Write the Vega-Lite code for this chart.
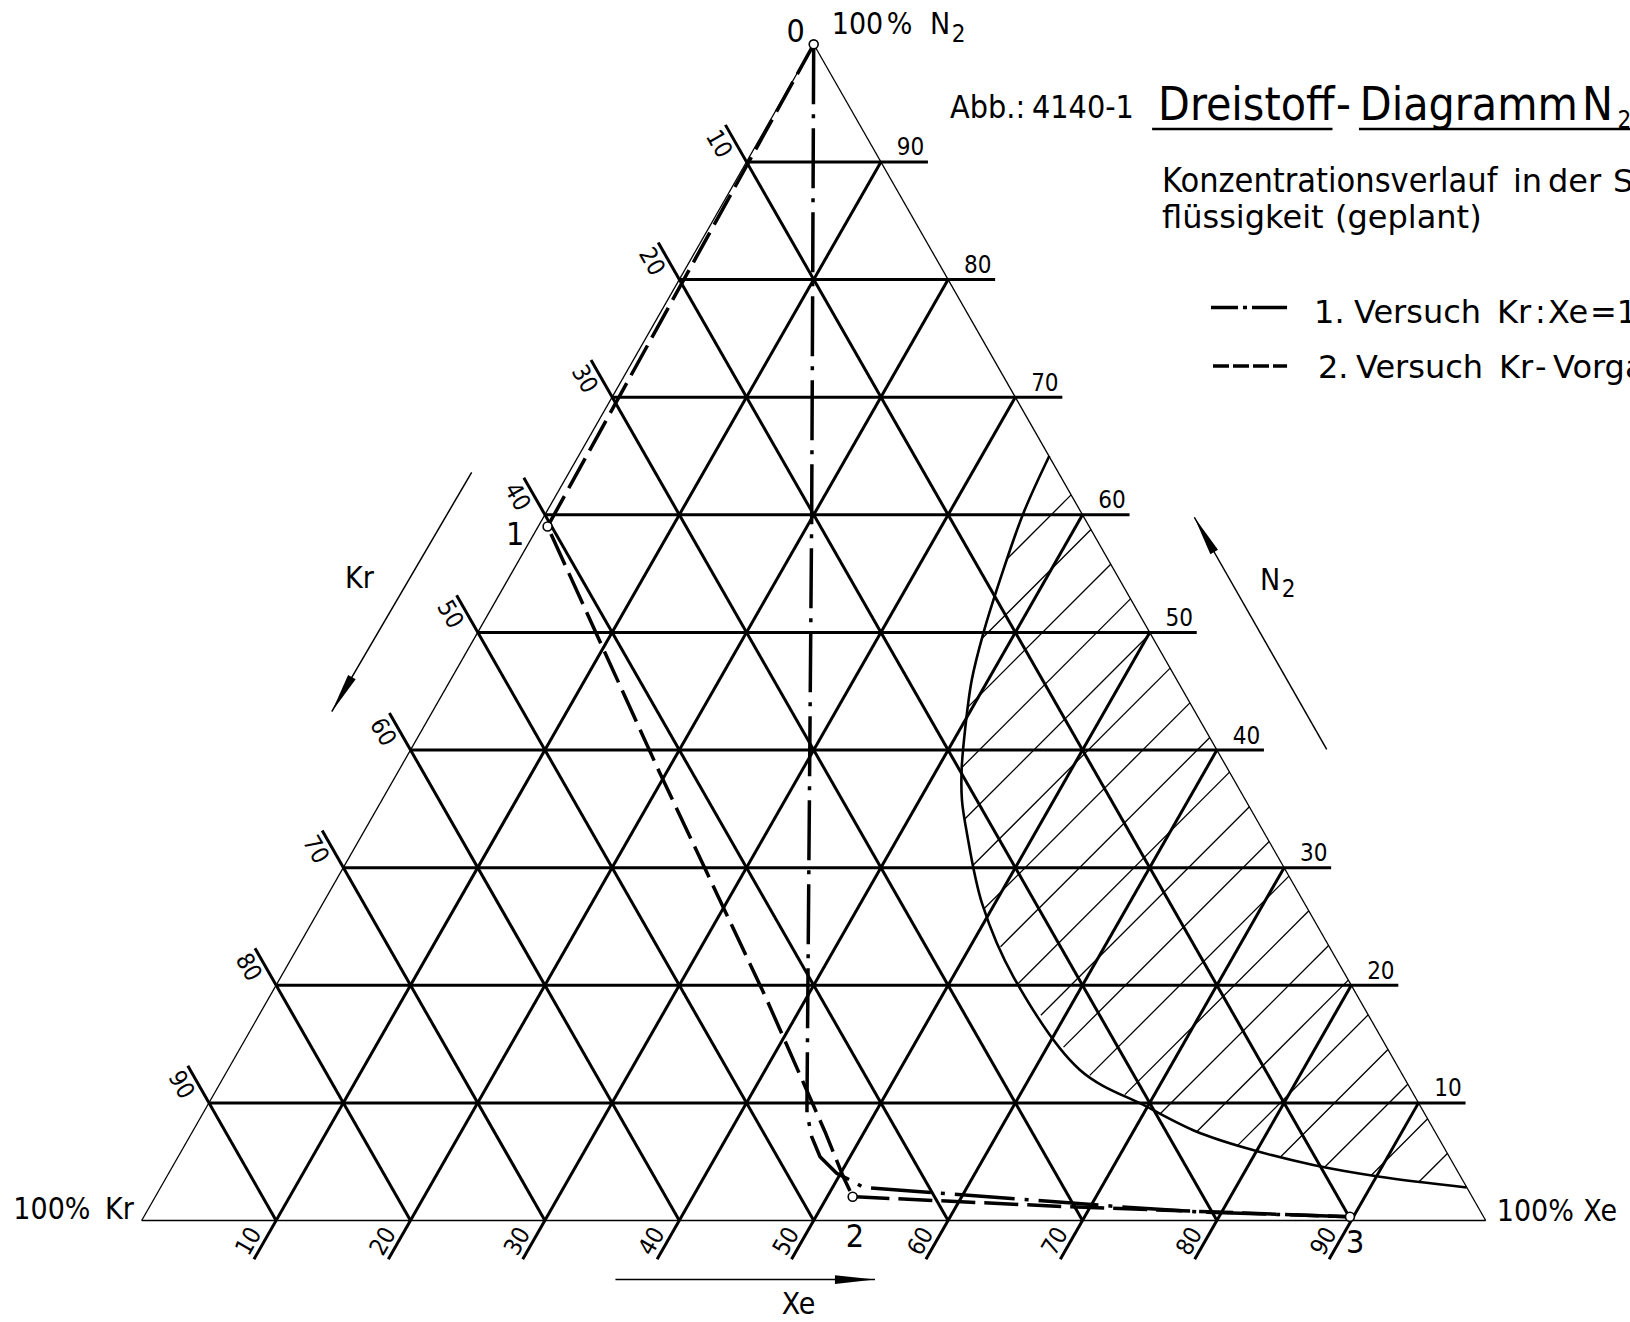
{
  "$schema": "https://vega.github.io/schema/vega-lite/v6.json",
  "width": 1630,
  "height": 1322,
  "padding": 0,
  "autosize": {"type": "none"},
  "background": "white",
  "config": {"view": {"stroke": null}, "text": {"font": "DejaVu Sans Condensed, Roboto Condensed, Roboto, sans-serif", "color": "black"}},
  "encoding": {
    "x": {"field": "x", "type": "quantitative", "scale": {"domain": [-10.5432, 110.7366], "nice": false, "zero": false}, "axis": null},
    "y": {"field": "y", "type": "quantitative", "scale": {"domain": [-8.6295, 103.7664], "nice": false, "zero": false}, "axis": null}
  },
  "layer": [
    {
      "data": {"values": [
        {"x": 0, "y": 0, "x2": 100, "y2": 0},
        {"x": 0, "y": 0, "x2": 50, "y2": 100},
        {"x": 100, "y": 0, "x2": 50, "y2": 100}
      ]},
      "mark": {"type": "rule", "stroke": "black", "strokeWidth": 1.3},
      "encoding": {"x2": {"field": "x2"}, "y2": {"field": "y2"}}
    },
    {
      "data": {"values": [
        {"x": 97.15, "y": 5.70, "x2": 95.06, "y2": 3.31},
        {"x": 95.68, "y": 8.65, "x2": 91.49, "y2": 3.85},
        {"x": 94.20, "y": 11.59, "x2": 88.03, "y2": 4.55},
        {"x": 92.73, "y": 14.54, "x2": 84.75, "y2": 5.42},
        {"x": 91.26, "y": 17.49, "x2": 81.55, "y2": 6.39},
        {"x": 89.78, "y": 20.44, "x2": 78.50, "y2": 7.54},
        {"x": 88.31, "y": 23.38, "x2": 75.80, "y2": 9.09},
        {"x": 86.84, "y": 26.33, "x2": 73.15, "y2": 10.70},
        {"x": 85.36, "y": 29.28, "x2": 70.54, "y2": 12.34},
        {"x": 83.89, "y": 32.22, "x2": 68.59, "y2": 14.74},
        {"x": 82.42, "y": 35.17, "x2": 66.90, "y2": 17.45},
        {"x": 80.94, "y": 38.12, "x2": 65.22, "y2": 20.15},
        {"x": 79.47, "y": 41.06, "x2": 63.90, "y2": 23.28},
        {"x": 77.99, "y": 44.01, "x2": 62.69, "y2": 26.52},
        {"x": 76.52, "y": 46.96, "x2": 61.91, "y2": 30.27},
        {"x": 75.05, "y": 49.91, "x2": 61.24, "y2": 34.13},
        {"x": 73.57, "y": 52.85, "x2": 61.02, "y2": 38.51},
        {"x": 72.10, "y": 55.80, "x2": 61.49, "y2": 43.67},
        {"x": 70.63, "y": 58.75, "x2": 62.52, "y2": 49.48},
        {"x": 69.15, "y": 61.69, "x2": 64.42, "y2": 56.28}
      ]},
      "mark": {"type": "rule", "stroke": "black", "strokeWidth": 1.3},
      "encoding": {"x2": {"field": "x2"}, "y2": {"field": "y2"}}
    },
    {
      "data": {"values": [
        {"x": 5, "y": 10, "x2": 98.5, "y2": 10},
        {"x": 10, "y": 20, "x2": 93.5, "y2": 20},
        {"x": 15, "y": 30, "x2": 88.5, "y2": 30},
        {"x": 20, "y": 40, "x2": 83.5, "y2": 40},
        {"x": 25, "y": 50, "x2": 78.5, "y2": 50},
        {"x": 30, "y": 60, "x2": 73.5, "y2": 60},
        {"x": 35, "y": 70, "x2": 68.5, "y2": 70},
        {"x": 40, "y": 80, "x2": 63.5, "y2": 80},
        {"x": 45, "y": 90, "x2": 58.5, "y2": 90},
        {"x": 43.43, "y": 93.15, "x2": 90, "y2": 0},
        {"x": 38.43, "y": 83.15, "x2": 80, "y2": 0},
        {"x": 33.43, "y": 73.15, "x2": 70, "y2": 0},
        {"x": 28.43, "y": 63.15, "x2": 60, "y2": 0},
        {"x": 23.43, "y": 53.15, "x2": 50, "y2": 0},
        {"x": 18.43, "y": 43.15, "x2": 40, "y2": 0},
        {"x": 13.43, "y": 33.15, "x2": 30, "y2": 0},
        {"x": 8.43, "y": 23.15, "x2": 20, "y2": 0},
        {"x": 3.43, "y": 13.15, "x2": 10, "y2": 0},
        {"x": 8.35, "y": -3.3, "x2": 55, "y2": 90},
        {"x": 18.35, "y": -3.3, "x2": 60, "y2": 80},
        {"x": 28.35, "y": -3.3, "x2": 65, "y2": 70},
        {"x": 38.35, "y": -3.3, "x2": 70, "y2": 60},
        {"x": 48.35, "y": -3.3, "x2": 75, "y2": 50},
        {"x": 58.35, "y": -3.3, "x2": 80, "y2": 40},
        {"x": 68.35, "y": -3.3, "x2": 85, "y2": 30},
        {"x": 78.35, "y": -3.3, "x2": 90, "y2": 20},
        {"x": 88.35, "y": -3.3, "x2": 95, "y2": 10}
      ]},
      "mark": {"type": "rule", "stroke": "black", "strokeWidth": 3},
      "encoding": {"x2": {"field": "x2"}, "y2": {"field": "y2"}}
    },
    {
      "data": {"values": [
        {"x": 67.53, "y": 65.0},
        {"x": 65.60, "y": 60.13},
        {"x": 63.86, "y": 54.46},
        {"x": 62.62, "y": 49.92},
        {"x": 61.76, "y": 45.95},
        {"x": 61.26, "y": 41.70},
        {"x": 61.01, "y": 38.39},
        {"x": 61.03, "y": 35.75},
        {"x": 61.38, "y": 33.06},
        {"x": 62.55, "y": 26.87},
        {"x": 64.87, "y": 20.70},
        {"x": 69.81, "y": 12.80},
        {"x": 74.78, "y": 9.68},
        {"x": 78.50, "y": 7.55},
        {"x": 82.22, "y": 6.14},
        {"x": 87.17, "y": 4.72},
        {"x": 92.13, "y": 3.72},
        {"x": 98.59, "y": 2.81}
      ]},
      "mark": {"type": "line", "stroke": "black", "strokeWidth": 2.6, "interpolate": "catmull-rom"},
      "encoding": {"order": {"value": null}}
    },
    {
      "data": {"values": [
        {"x": 50, "y": 100},
        {"x": 49.85, "y": 60},
        {"x": 49.5, "y": 10},
        {"x": 49.5, "y": 9.14},
        {"x": 49.85, "y": 7.12},
        {"x": 50.47, "y": 5.42},
        {"x": 51.71, "y": 4.01},
        {"x": 52.95, "y": 3.30},
        {"x": 53.67, "y": 2.82},
        {"x": 72.79, "y": 1.17},
        {"x": 78.74, "y": 0.72},
        {"x": 89.9, "y": 0.32}
      ]},
      "mark": {"type": "line", "stroke": "black", "strokeWidth": 3.5, "strokeDash": [60, 10, 4, 10]},
      "encoding": {"order": {"value": null}}
    },
    {
      "data": {"values": [
        {"x": 50, "y": 100},
        {"x": 30.2, "y": 59.0},
        {"x": 38.42, "y": 38.37},
        {"x": 46.45, "y": 18.93},
        {"x": 50.84, "y": 7.55},
        {"x": 52.2, "y": 3.72},
        {"x": 52.9, "y": 2.02},
        {"x": 68.94, "y": 1.17},
        {"x": 78.74, "y": 0.77},
        {"x": 89.9, "y": 0.32}
      ]},
      "mark": {"type": "line", "stroke": "black", "strokeWidth": 3.5, "strokeDash": [34, 9]},
      "encoding": {"order": {"value": null}}
    },
    {
      "data": {"values": [
        {"x": 50, "y": 100},
        {"x": 30.2, "y": 59.0},
        {"x": 52.9, "y": 2.02},
        {"x": 89.9, "y": 0.32}
      ]},
      "mark": {"type": "point", "shape": "circle", "size": 80, "filled": true, "fill": "white", "stroke": "black", "strokeWidth": 1.6, "opacity": 1}
    },
    {
      "data": {"values": [
        {"x": 24.55, "y": 63.61, "x2": 14.14, "y2": 43.26},
        {"x": 88.17, "y": 40.06, "x2": 78.32, "y2": 59.79},
        {"x": 35.25, "y": -5.02, "x2": 54.56, "y2": -5.02}
      ]},
      "mark": {"type": "rule", "stroke": "black", "strokeWidth": 1.5},
      "encoding": {"x2": {"field": "x2"}, "y2": {"field": "y2"}}
    },
    {
      "data": {"values": [{"x": 14.89, "y": 44.73}]},
      "mark": {"type": "point", "shape": "M0,-1L0.22,1L-0.22,1Z", "size": 1600, "filled": true, "color": "black", "strokeWidth": 0, "opacity": 1, "angle": 210.3}
    },
    {
      "data": {"values": [{"x": 79.06, "y": 58.31}]},
      "mark": {"type": "point", "shape": "M0,-1L0.22,1L-0.22,1Z", "size": 1600, "filled": true, "color": "black", "strokeWidth": 0, "opacity": 1, "angle": 330.3}
    },
    {
      "data": {"values": [{"x": 53.07, "y": -5.02}]},
      "mark": {"type": "point", "shape": "M0,-1L0.22,1L-0.22,1Z", "size": 1600, "filled": true, "color": "black", "strokeWidth": 0, "opacity": 1, "angle": 90}
    },
    {
      "data": {"values": [
        {"x": 75.18, "y": 92.80, "x2": 88.60, "y2": 92.80},
        {"x": 90.57, "y": 92.80, "x2": 110.74, "y2": 92.80}
      ]},
      "mark": {"type": "rule", "stroke": "black", "strokeWidth": 2.5},
      "encoding": {"x2": {"field": "x2"}, "y2": {"field": "y2"}}
    },
    {
      "data": {"values": [{"x": 79.56, "y": 77.62, "x2": 85.22, "y2": 77.62}]},
      "mark": {"type": "rule", "stroke": "black", "strokeWidth": 3.5, "strokeDash": [27, 5, 4, 5, 40]},
      "encoding": {"x2": {"field": "x2"}, "y2": {"field": "y2"}}
    },
    {
      "data": {"values": [{"x": 79.71, "y": 72.65, "x2": 85.22, "y2": 72.65}]},
      "mark": {"type": "rule", "stroke": "black", "strokeWidth": 3.5, "strokeDash": [16, 4]},
      "encoding": {"x2": {"field": "x2"}, "y2": {"field": "y2"}}
    },
    {
      "data": {"values": [
        {"x": 75.62, "y": 93.57, "t": "Dreistoff"},
        {"x": 88.87, "y": 93.57, "t": "-"},
        {"x": 90.63, "y": 93.57, "t": "Diagramm"},
        {"x": 107.16, "y": 93.57, "t": "N"}
      ]},
      "mark": {"type": "text", "fontSize": 46, "align": "left", "baseline": "alphabetic"},
      "encoding": {"text": {"field": "t"}}
    },
    {
      "data": {"values": [
        {"x": 60.15, "y": 93.71, "t": "Abb.:"},
        {"x": 66.24, "y": 93.71, "t": "4140-1"}
      ]},
      "mark": {"type": "text", "fontSize": 32, "align": "left", "baseline": "alphabetic"},
      "encoding": {"text": {"field": "t"}}
    },
    {
      "data": {"values": [
        {"x": 75.92, "y": 87.44, "t": "Konzentrationsverlauf"}
      ]},
      "mark": {"type": "text", "fontSize": 34, "align": "left", "baseline": "alphabetic"},
      "encoding": {"text": {"field": "t"}}
    },
    {
      "data": {"values": [
        {"x": 102.03, "y": 87.44, "t": "in"},
        {"x": 104.63, "y": 87.44, "t": "der"},
        {"x": 109.47, "y": 87.44, "t": "Sumpf-"},
        {"x": 75.92, "y": 84.38, "t": "flüssigkeit"},
        {"x": 88.79, "y": 84.38, "t": "(geplant)"},
        {"x": 87.23, "y": 76.31, "t": "1."},
        {"x": 90.20, "y": 76.31, "t": "Versuch"},
        {"x": 100.84, "y": 76.31, "t": "Kr"},
        {"x": 103.67, "y": 76.31, "t": ":"},
        {"x": 104.64, "y": 76.31, "t": "Xe"},
        {"x": 107.76, "y": 76.31, "t": "=1 : 1"},
        {"x": 87.52, "y": 71.63, "t": "2."},
        {"x": 90.35, "y": 71.63, "t": "Versuch"},
        {"x": 100.99, "y": 71.63, "t": "Kr"},
        {"x": 103.67, "y": 71.63, "t": "-"},
        {"x": 105.01, "y": 71.63, "t": "Vorgabe"}
      ]},
      "mark": {"type": "text", "font": "DejaVu Sans", "fontSize": 32, "align": "left", "baseline": "alphabetic"},
      "encoding": {"text": {"field": "t"}}
    },
    {
      "data": {"values": [
        {"x": 51.34, "y": 100.88, "t": "100"},
        {"x": 55.43, "y": 100.88, "t": "%"},
        {"x": 58.65, "y": 100.88, "t": "N"},
        {"x": -9.55, "y": 0.10, "t": "100%"},
        {"x": -2.73, "y": 0.10, "t": "Kr"},
        {"x": 100.82, "y": -0.04, "t": "100%"},
        {"x": 107.26, "y": -0.04, "t": "Xe"},
        {"x": 15.13, "y": 53.75, "t": "Kr"},
        {"x": 83.21, "y": 53.60, "t": "N"},
        {"x": 47.62, "y": -7.95, "t": "Xe"}
      ]},
      "mark": {"type": "text", "fontSize": 30, "align": "left", "baseline": "alphabetic"},
      "encoding": {"text": {"field": "t"}}
    },
    {
      "data": {"values": [
        {"x": 60.27, "y": 100.22, "t": "2"},
        {"x": 84.82, "y": 53.04, "t": "2"},
        {"x": 109.81, "y": 92.90, "t": "2"}
      ]},
      "mark": {"type": "text", "fontSize": 24, "align": "left", "baseline": "alphabetic"},
      "encoding": {"text": {"field": "t"}}
    },
    {
      "data": {"values": [
        {"x": 48.65, "y": 100.22, "t": "0"},
        {"x": 27.78, "y": 57.43, "t": "1"},
        {"x": 53.07, "y": -2.23, "t": "2"},
        {"x": 90.28, "y": -2.79, "t": "3"}
      ]},
      "mark": {"type": "text", "fontSize": 32, "align": "center", "baseline": "alphabetic"},
      "encoding": {"text": {"field": "t"}}
    },
    {
      "data": {"values": [
        {"x": 57.2, "y": 90.55, "t": "90"},
        {"x": 62.2, "y": 80.55, "t": "80"},
        {"x": 67.2, "y": 70.55, "t": "70"},
        {"x": 72.2, "y": 60.55, "t": "60"},
        {"x": 77.2, "y": 50.55, "t": "50"},
        {"x": 82.2, "y": 40.55, "t": "40"},
        {"x": 87.2, "y": 30.55, "t": "30"},
        {"x": 92.2, "y": 20.55, "t": "20"},
        {"x": 97.2, "y": 10.55, "t": "10"}
      ]},
      "mark": {"type": "text", "fontSize": 24, "align": "center", "baseline": "alphabetic"},
      "encoding": {"text": {"field": "t"}}
    },
    {
      "data": {"values": [
        {"x": 42.9, "y": 91.5, "t": "10"},
        {"x": 37.9, "y": 81.5, "t": "20"},
        {"x": 32.9, "y": 71.5, "t": "30"},
        {"x": 27.9, "y": 61.5, "t": "40"},
        {"x": 22.9, "y": 51.5, "t": "50"},
        {"x": 17.9, "y": 41.5, "t": "60"},
        {"x": 12.9, "y": 31.5, "t": "70"},
        {"x": 7.9, "y": 21.5, "t": "80"},
        {"x": 2.9, "y": 11.5, "t": "90"}
      ]},
      "mark": {"type": "text", "fontSize": 24, "align": "center", "baseline": "middle", "angle": 60},
      "encoding": {"text": {"field": "t"}}
    },
    {
      "data": {"values": [
        {"x": 8.0, "y": -1.8, "t": "10"},
        {"x": 18.0, "y": -1.8, "t": "20"},
        {"x": 28.0, "y": -1.8, "t": "30"},
        {"x": 38.0, "y": -1.8, "t": "40"},
        {"x": 48.0, "y": -1.8, "t": "50"},
        {"x": 58.0, "y": -1.8, "t": "60"},
        {"x": 68.0, "y": -1.8, "t": "70"},
        {"x": 78.0, "y": -1.8, "t": "80"},
        {"x": 88.0, "y": -1.8, "t": "90"}
      ]},
      "mark": {"type": "text", "fontSize": 24, "align": "center", "baseline": "middle", "angle": 300},
      "encoding": {"text": {"field": "t"}}
    }
  ]
}
